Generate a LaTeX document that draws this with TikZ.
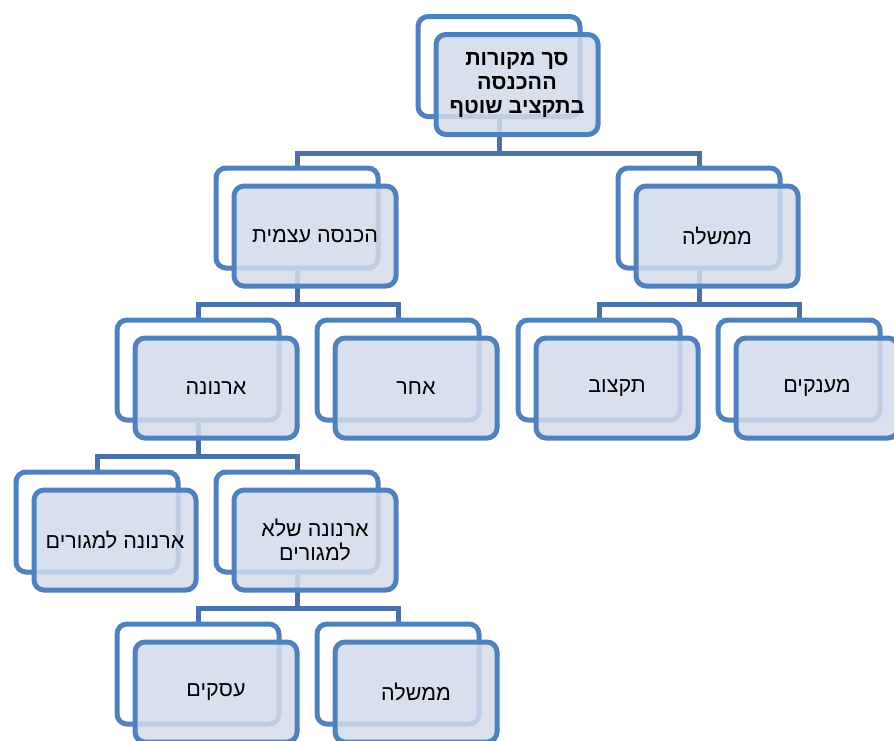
\documentclass[tikz,border=0pt]{standalone}
\usepackage{fontspec}
\TeXXeTstate=1
\newfontfamily\hebfont[Script=Hebrew]{Liberation Sans}
\usetikzlibrary{backgrounds}
\definecolor{boxblue}{HTML}{4F81BD}
\definecolor{linkblue}{HTML}{4A72A8}
\definecolor{boxfill}{HTML}{D3DBEA}
\tikzset{
  backbox/.style={draw=boxblue, line width=5pt, fill=white, rounded corners=10pt,
    minimum width=162pt, minimum height=100pt, inner sep=0pt},
  frontbox/.style={draw=boxblue, line width=5pt, fill=boxfill, fill opacity=0.85, text opacity=1,
    rounded corners=10pt, minimum width=162pt, minimum height=100pt, inner sep=0pt,
    align=center, font=\hebfont\fontsize{21.5}{24}\selectfont},
  topbox/.style={font=\hebfont\bfseries\fontsize{21.5}{24}\selectfont},
  link/.style={draw=linkblue, line width=5pt}
}
\newcommand\obox[5][]{%
  \node[backbox] (#2-b) at (#3pt,-#4pt) {};
  \node[frontbox,#1] (#2) at ([shift={(18pt,-18pt)}]#2-b.center) {#5};
}
\begin{document}
\begin{tikzpicture}
\useasboundingbox (0,0) rectangle (894pt,-740pt);
\obox[topbox]{top}{499}{66.5}{\beginR סך מקורות\endR\\\beginR ההכנסה\endR\\\beginR בתקציב שוטף\endR}
\obox{own}{297}{218}{\beginR הכנסה עצמית\endR}
\obox{gov}{699}{218}{\beginR ממשלה\endR}
\obox{arn}{198}{370}{\beginR ארנונה\endR}
\obox{oth}{398}{370}{\beginR אחר\endR}
\obox{bud}{599}{370}{\beginR תקצוב\endR}
\obox{grt}{799}{370}{\beginR מענקים\endR}
\obox{res}{97}{522}{\beginR ארנונה למגורים\endR}
\obox{nres}{297}{522}{\beginR ארנונה שלא\endR\\\beginR למגורים\endR}
\obox{bus}{198}{674}{\beginR עסקים\endR}
\obox{gov2}{398}{674}{\beginR ממשלה\endR}
\begin{scope}[on background layer]
  \draw[link] (top-b.south) -- ++(0,-34pt) -| (own-b.north);
  \draw[link] (top-b.south) -- ++(0,-34pt) -| (gov-b.north);
  \draw[link] (own-b.south) -- ++(0,-34pt) -| (arn-b.north);
  \draw[link] (own-b.south) -- ++(0,-34pt) -| (oth-b.north);
  \draw[link] (gov-b.south) -- ++(0,-34pt) -| (bud-b.north);
  \draw[link] (gov-b.south) -- ++(0,-34pt) -| (grt-b.north);
  \draw[link] (arn-b.south) -- ++(0,-34pt) -| (res-b.north);
  \draw[link] (arn-b.south) -- ++(0,-34pt) -| (nres-b.north);
  \draw[link] (nres-b.south) -- ++(0,-34pt) -| (bus-b.north);
  \draw[link] (nres-b.south) -- ++(0,-34pt) -| (gov2-b.north);
\end{scope}
\end{tikzpicture}
\end{document}
